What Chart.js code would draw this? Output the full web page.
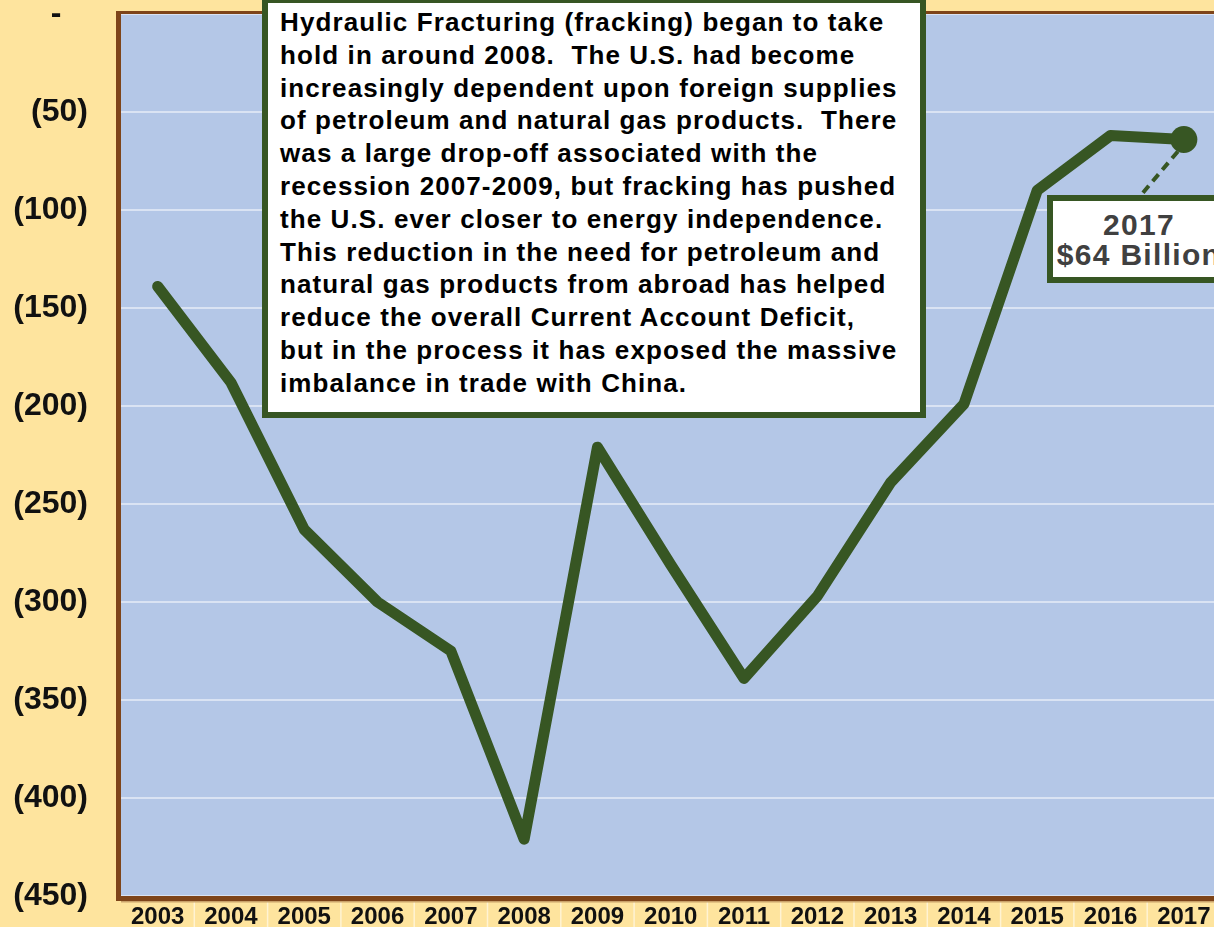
<!DOCTYPE html>
<html>
<head>
<meta charset="utf-8">
<script src="https://cdn.jsdelivr.net/npm/chart.js@4.4.1/dist/chart.umd.min.js"></script>
<style>
  html, body { margin: 0; padding: 0; background: #FEE49E; overflow: hidden; }
  #wrap { position: relative; width: 1214px; height: 927px; overflow: hidden; }
  #chartBox { position: absolute; left: 0; top: 0; width: 1234px; height: 927px; }
  .note {
    position: absolute; left: 262px; top: -3px; width: 640px; height: 406px;
    background: #fff; border: 6px solid #375623;
    padding: 3px 0 0 12px;
    font-family: "Liberation Sans", Arial, sans-serif; font-weight: bold;
    font-size: 26px; line-height: 32.8px; letter-spacing: 1.1px; color: #000;
    white-space: pre;
  }
  .callout {
    position: absolute; left: 1047px; top: 195px; width: 172px; height: 67px;
    background: #fff; border: 6px solid #375623; padding-top: 9px;
    font-family: "Liberation Sans", Arial, sans-serif; font-weight: bold;
    font-size: 30px; line-height: 30px; letter-spacing: 1.3px; color: #404040; text-align: center;
    white-space: pre;
  }
</style>
</head>
<body>
<div id="wrap">
  <div id="chartBox"><canvas id="deficitChart"></canvas></div>
  <div class="note">Hydraulic Fracturing (fracking) began to take
hold in around 2008.  The U.S. had become
increasingly dependent upon foreign supplies
of petroleum and natural gas products.  There
was a large drop-off associated with the
recession 2007-2009, but fracking has pushed
the U.S. ever closer to energy independence.
This reduction in the need for petroleum and
natural gas products from abroad has helped
reduce the overall Current Account Deficit,
but in the process it has exposed the massive
imbalance in trade with China.</div>
  <div class="callout">2017
$64 Billion</div>
</div>
<script>
// Years on the x axis
const years = ['2003', '2004', '2005', '2006', '2007', '2008', '2009', '2010',
               '2011', '2012', '2013', '2014', '2015', '2016', '2017'];
// Balance (billions of dollars)
const balance = [-139, -188, -263, -300, -325, -421, -221, -281,
                 -339, -297, -239, -199, -90, -62, -64];
// Y tick values
const yTicks = [0, -50, -100, -150, -200, -250, -300, -350, -400, -450];

const green = '#375623';
const brown = '#7E4419';

// accounting style: zero shows as a dash, negatives in brackets
function formatTick(v) {
  if (v === 0) return '-   ';
  return '(' + Math.abs(v) + ')';
}

function noPadding(s) {
  s.paddingTop = 0;
  s.paddingBottom = 0;
  s.paddingLeft = 0;
  s.paddingRight = 0;
}

// Plot background, borders, separators and the callout connector
const framePlugin = {
  id: 'frame',
  beforeDraw(chart) {
    const { ctx, chartArea: a } = chart;
    ctx.save();
    ctx.fillStyle = '#B4C7E7';
    ctx.fillRect(a.left, a.top, a.right - a.left, a.bottom - a.top);
    ctx.restore();
  },
  beforeDatasetsDraw(chart) {
    const { ctx, chartArea: a, scales } = chart;
    ctx.save();
    // separators between year labels
    const xs = scales.x;
    const band = (a.right - a.left) / years.length;
    ctx.strokeStyle = 'rgba(255,255,255,0.55)';
    ctx.lineWidth = 1.5;
    for (let i = 1; i < years.length; i++) {
      const x = xs.getPixelForValue(i) - band / 2;
      ctx.beginPath();
      ctx.moveTo(x, a.bottom);
      ctx.lineTo(x, chart.height);
      ctx.stroke();
    }
    // borders
    ctx.fillStyle = brown;
    ctx.fillRect(a.left - 3, a.top - 3, a.right - a.left + 3, 3);
    ctx.fillRect(a.left - 5, a.top - 3, 5, a.bottom - a.top + 8);
    ctx.fillRect(a.left - 5, a.bottom, a.right - a.left + 5, 5);
    ctx.fillStyle = '#C9A26B';
    ctx.fillRect(a.left, a.bottom + 5, a.right - a.left, 1.5);
    ctx.restore();
  },
  afterDatasetsDraw(chart) {
    const { ctx, scales } = chart;
    const last = balance.length - 1;
    const px = scales.x.getPixelForValue(last);
    const py = scales.y.getPixelForValue(balance[last]);
    ctx.save();
    ctx.strokeStyle = green;
    ctx.lineWidth = 4;
    ctx.setLineDash([9, 6]);
    ctx.beginPath();
    ctx.moveTo(px - 6, py + 12);
    ctx.lineTo(1141, 195);
    ctx.stroke();
    ctx.restore();
  }
};

const lastIndex = balance.length - 1;

new Chart(document.getElementById('deficitChart'), {
  type: 'line',
  data: {
    labels: years,
    datasets: [{
      data: balance,
      borderColor: green,
      backgroundColor: green,
      borderWidth: 11,
      tension: 0,
      pointRadius: (c) => c.dataIndex === lastIndex ? 13.5 : 0,
      pointBorderWidth: 0,
      pointBackgroundColor: green,
      borderJoinStyle: 'round',
      borderCapStyle: 'round'
    }]
  },
  options: {
    responsive: true,
    maintainAspectRatio: false,
    animation: false,
    layout: { padding: { top: 14, right: 0, bottom: 0, left: 0 } },
    plugins: {
      legend: { display: false },
      tooltip: { enabled: false }
    },
    scales: {
      x: {
        offset: true,
        grid: { display: false, drawTicks: false },
        border: { display: false },
        ticks: {
          color: '#111',
          padding: 7,
          maxRotation: 0,
          autoSkip: false,
          font: { family: 'Liberation Sans, Arial, sans-serif', size: 24, weight: 'bold' }
        },
        afterFit: (s) => { s.height = 31; noPadding(s); }
      },
      y: {
        min: -450,
        max: 0,
        afterBuildTicks: (s) => { s.ticks = yTicks.map(v => ({ value: v })); },
        grid: {
          color: 'rgba(255,255,255,0.5)',
          lineWidth: 2,
          drawTicks: false
        },
        border: { display: false },
        ticks: {
          color: '#111',
          padding: 33,
          crossAlign: 'near',
          callback: formatTick,
          font: { family: 'Liberation Sans, Arial, sans-serif', size: 32, weight: 'bold' }
        },
        afterFit: (s) => { s.width = 121; noPadding(s); }
      }
    }
  },
  plugins: [framePlugin]
});
</script>
</body>
</html>
